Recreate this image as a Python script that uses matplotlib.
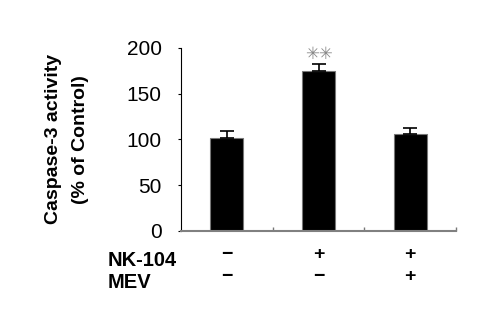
import matplotlib
matplotlib.use("Agg")
import matplotlib.pyplot as plt
import matplotlib.transforms as mtransforms

plt.rcParams['font.family'] = ['Liberation Sans', 'DejaVu Sans']

# caspase-3 activity per treatment group
groups = ["ctrl", "nk104", "nk104_mev"]
activity = [101, 175, 106]
sem = [8, 7, 7]
nk104 = ["\u2212", "+", "+"]
mev = ["\u2212", "\u2212", "+"]
signif = ["", "\u2733\u2733", ""]

fig = plt.figure(figsize=(4.95, 3.28), dpi=100)
ax = fig.add_axes([0.366, 0.296, 0.555, 0.558])

x = range(len(groups))
ax.bar(x, activity, width=0.36, color="black", edgecolor="#777777", linewidth=0.8,
       yerr=[[0] * len(sem), sem], error_kw=dict(ecolor="black", elinewidth=1.2, capsize=5, capthick=1.2))

for xi, v, e, s in zip(x, activity, sem, signif):
    if s:
        ax.text(xi, v + e + 2, s, ha="center", va="bottom", fontsize=12, color="#888888",
                family="DejaVu Sans")

ax.set_xlim(-0.5, 2.5)
ax.set_ylim(0, 200)
ax.set_yticks([0, 50, 100, 150, 200])
ax.tick_params(axis="y", labelsize=15, length=2, width=0.8, pad=12)
ax.set_xticks([0.5, 1.5, 2.5])
ax.set_xticklabels([])
ax.tick_params(axis="x", direction="in", length=3, width=1, color="#777777")

for side in ["top", "right"]:
    ax.spines[side].set_visible(False)
ax.spines["bottom"].set_color("#808080")
ax.spines["bottom"].set_linewidth(1.5)
ax.spines["left"].set_linewidth(0.8)

ax.set_ylabel("Caspase-3 activity\n(% of Control)", fontsize=14, fontweight="bold",
              linespacing=1.8, labelpad=27)

# treatment table under the axis
trans = mtransforms.blended_transform_factory(ax.transData, fig.transFigure)
for xi, a, b in zip(x, nk104, mev):
    ax.text(xi, 1 - 255 / 328, a, transform=trans, ha="center", va="center",
            fontsize=14, fontweight="bold")
    ax.text(xi, 1 - 277 / 328, b, transform=trans, ha="center", va="center",
            fontsize=14, fontweight="bold")
fig.text(108 / 495, 1 - 260 / 328, "NK-104", ha="left", va="center", fontsize=14.5, fontweight="bold")
fig.text(108 / 495, 1 - 283 / 328, "MEV", ha="left", va="center", fontsize=14.5, fontweight="bold")

fig.savefig("out.png", dpi=100)
